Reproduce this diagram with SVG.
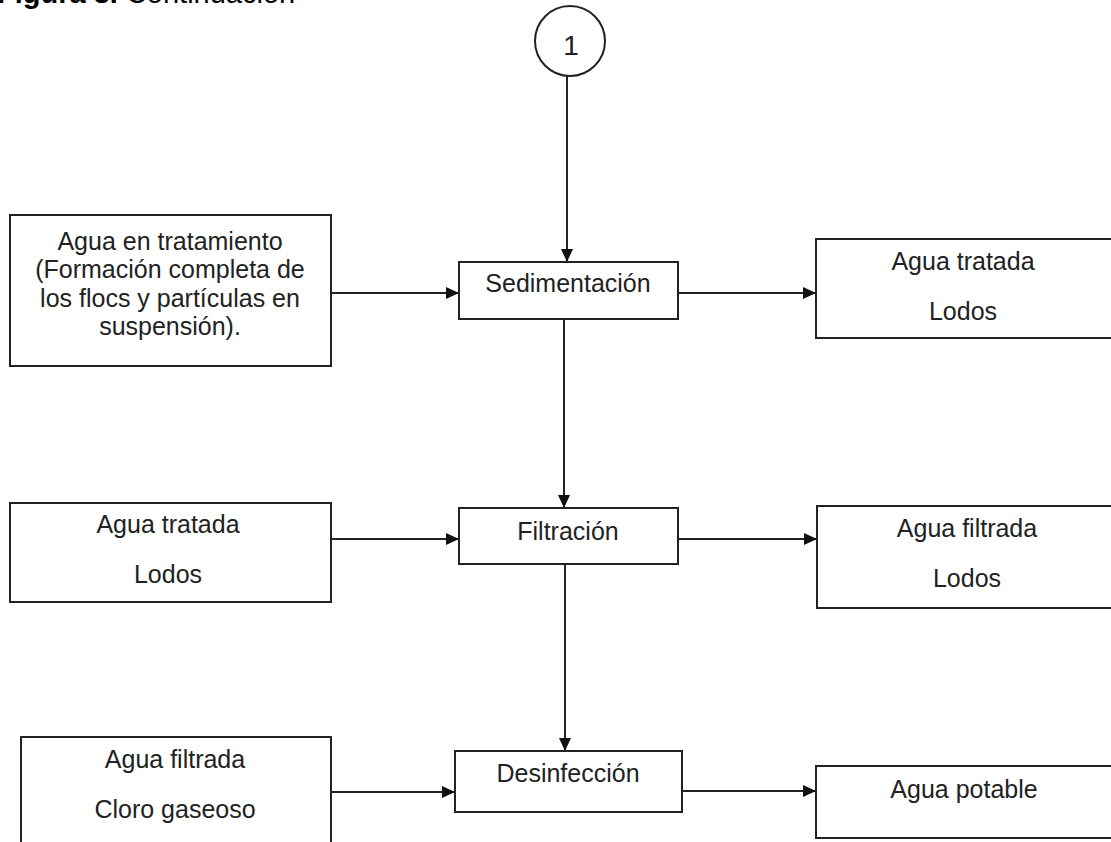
<svg xmlns="http://www.w3.org/2000/svg" width="1111" height="842" viewBox="0 0 1111 842">
  <style>
    .box { fill: #fff; stroke: #222; stroke-width: 2; }
    .lbl { font-family: "Liberation Sans", Arial, sans-serif; font-size: 25px; fill: #222; text-anchor: middle; }
    .edge { fill: none; stroke: #222; stroke-width: 2; }
    .title { font-family: "Liberation Sans", Arial, sans-serif; font-size: 29px; fill: #000; }
  </style>
  <defs>
    <marker id="arrow" markerUnits="userSpaceOnUse" markerWidth="14" markerHeight="12" refX="13" refY="6" orient="auto">
      <path d="M0,0 L13,6 L0,12 Z" fill="#111"/>
    </marker>
  </defs>
  <rect width="1111" height="842" fill="#fff"/>

  <text class="title" x="-3" y="3"><tspan font-weight="bold">Figura 3.</tspan> Continuación</text>

  <!-- connector lines -->
  <g id="connectors">
    <path class="edge" d="M567,76 V262" marker-end="url(#arrow)"/>
    <path class="edge" d="M331,293 H459" marker-end="url(#arrow)"/>
    <path class="edge" d="M678,293 H816" marker-end="url(#arrow)"/>
    <path class="edge" d="M564,319 V508" marker-end="url(#arrow)"/>
    <path class="edge" d="M331,539 H459" marker-end="url(#arrow)"/>
    <path class="edge" d="M678,539 H817" marker-end="url(#arrow)"/>
    <path class="edge" d="M565,564 V751" marker-end="url(#arrow)"/>
    <path class="edge" d="M331,792 H455" marker-end="url(#arrow)"/>
    <path class="edge" d="M682,791 H816" marker-end="url(#arrow)"/>
  </g>

  <g id="connector-1">
    <circle cx="570" cy="41" r="35" fill="#fff" stroke="#222" stroke-width="2"/>
    <text class="lbl" x="571" y="55" style="font-size:28px">1</text>
  </g>

  <g id="input-1">
    <rect class="box" x="10" y="215" width="321" height="151"/>
    <text class="lbl" x="170" y="250">Agua en tratamiento</text>
    <text class="lbl" x="170" y="278">(Formación completa de</text>
    <text class="lbl" x="170" y="307">los flocs y partículas en</text>
    <text class="lbl" x="170" y="335">suspensión).</text>
  </g>

  <g id="sedimentacion">
    <rect class="box" x="459" y="262" width="219" height="57"/>
    <text class="lbl" x="568" y="292">Sedimentación</text>
  </g>

  <g id="output-1">
    <rect class="box" x="816" y="239" width="300" height="99"/>
    <text class="lbl" x="963" y="270">Agua tratada</text>
    <text class="lbl" x="963" y="320">Lodos</text>
  </g>

  <g id="input-2">
    <rect class="box" x="10" y="503" width="321" height="99"/>
    <text class="lbl" x="168" y="533">Agua tratada</text>
    <text class="lbl" x="168" y="583">Lodos</text>
  </g>

  <g id="filtracion">
    <rect class="box" x="459" y="508" width="219" height="56"/>
    <text class="lbl" x="568" y="540">Filtración</text>
  </g>

  <g id="output-2">
    <rect class="box" x="817" y="506" width="300" height="102"/>
    <text class="lbl" x="967" y="537">Agua filtrada</text>
    <text class="lbl" x="967" y="587">Lodos</text>
  </g>

  <g id="input-3">
    <rect class="box" x="21" y="737" width="310" height="120"/>
    <text class="lbl" x="175" y="768">Agua filtrada</text>
    <text class="lbl" x="175" y="818">Cloro gaseoso</text>
  </g>

  <g id="desinfeccion">
    <rect class="box" x="455" y="751" width="227" height="61"/>
    <text class="lbl" x="568" y="782">Desinfección</text>
  </g>

  <g id="output-3">
    <rect class="box" x="816" y="766" width="300" height="72"/>
    <text class="lbl" x="964" y="798">Agua potable</text>
  </g>
</svg>
